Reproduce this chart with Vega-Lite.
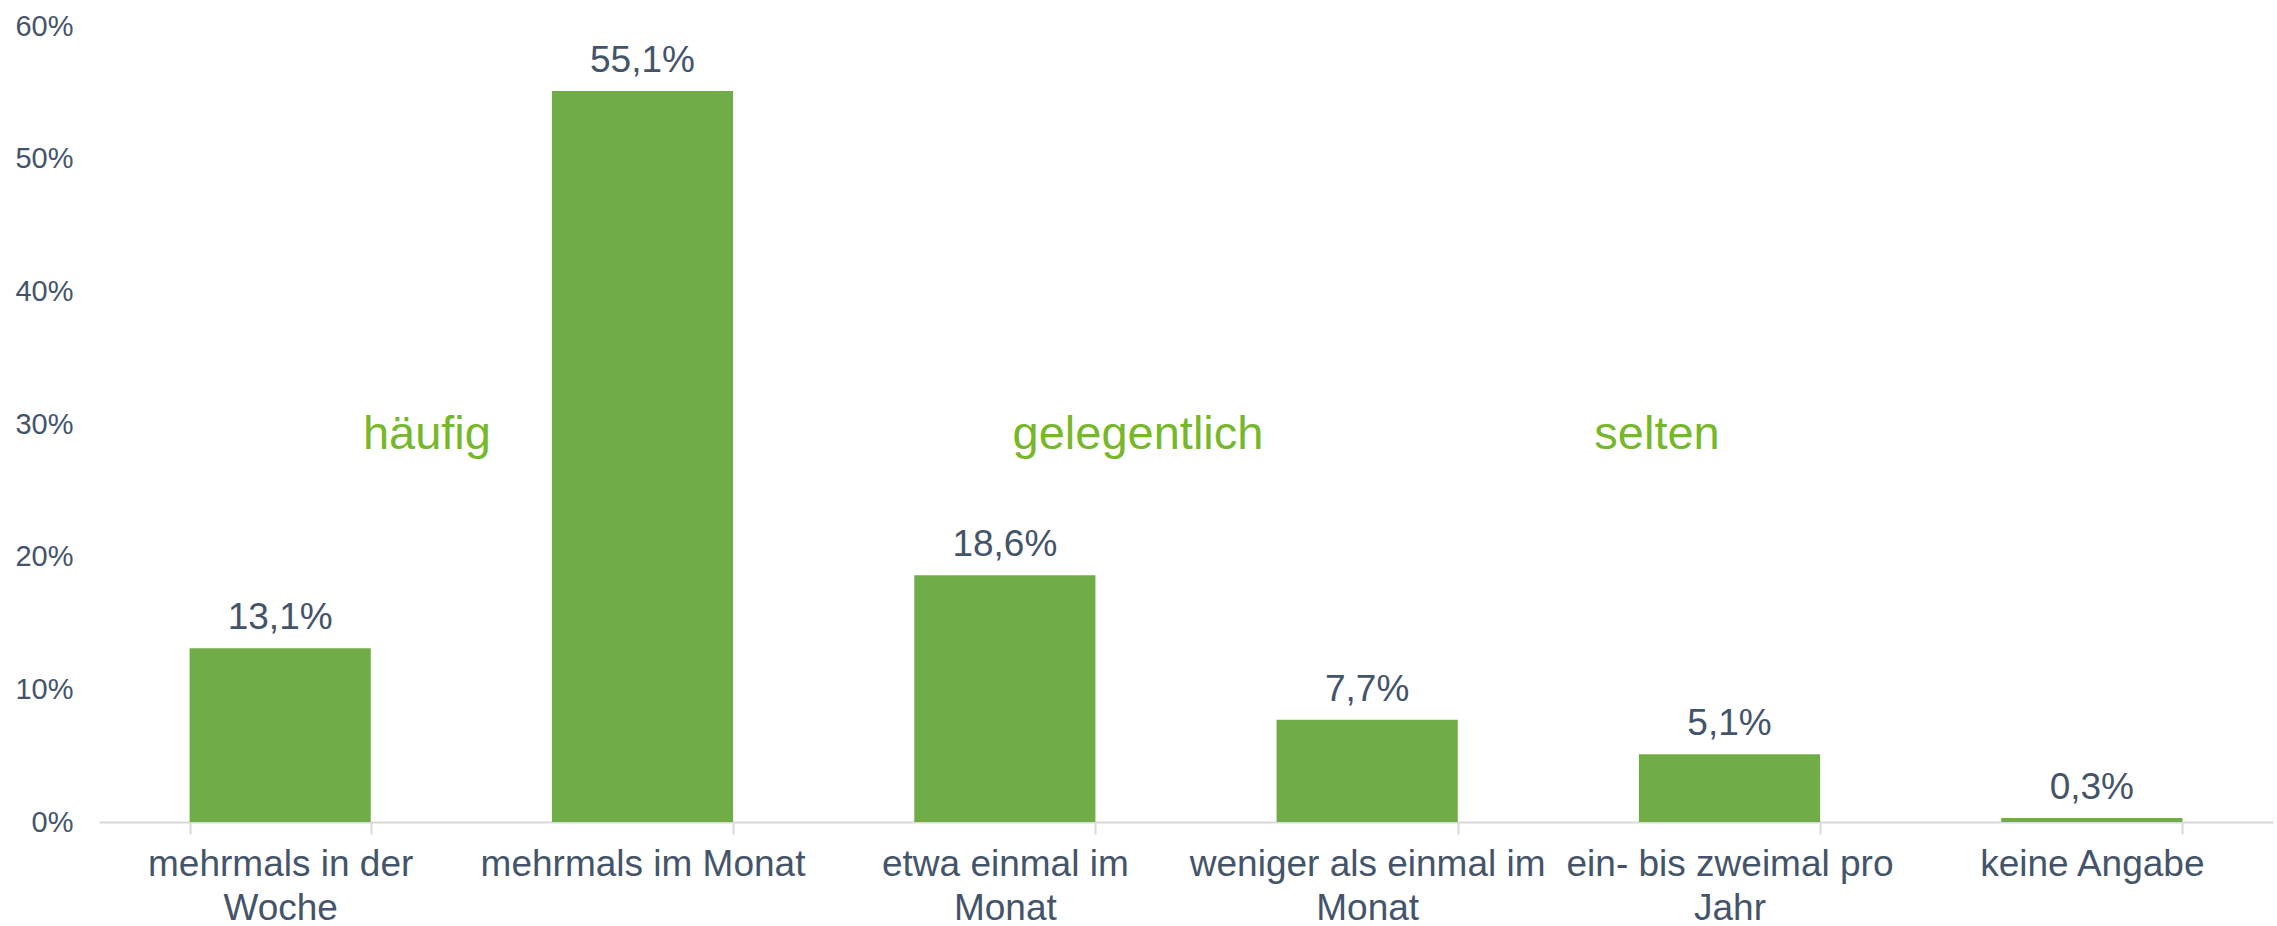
{
  "$schema": "https://vega.github.io/schema/vega-lite/v6.json",
  "width": 2174,
  "height": 796,
  "autosize": "none",
  "padding": {"left": 99, "top": 26, "right": 4, "bottom": 104},
  "background": "white",
  "config": {
    "view": {"stroke": null},
    "font": "Liberation Sans",
    "locale": {"number": {"decimal": ",", "thousands": ".", "grouping": [3], "currency": ["", " €"]}}
  },
  "datasets": {
    "bars": [
      {"kategorie": "mehrmals in der|Woche", "anteil": 0.131},
      {"kategorie": "mehrmals im Monat", "anteil": 0.551},
      {"kategorie": "etwa einmal im|Monat", "anteil": 0.186},
      {"kategorie": "weniger als einmal im|Monat", "anteil": 0.077},
      {"kategorie": "ein- bis zweimal pro|Jahr", "anteil": 0.051},
      {"kategorie": "keine Angabe", "anteil": 0.003}
    ],
    "gruppen": [
      {"gruppe": "häufig", "anker": "mehrmals in der|Woche"},
      {"gruppe": "gelegentlich", "anker": "etwa einmal im|Monat"},
      {"gruppe": "selten", "anker": "ein- bis zweimal pro|Jahr"}
    ]
  },
  "layer": [
    {
      "data": {"name": "bars"},
      "mark": {"type": "bar", "color": "#70AD47"},
      "encoding": {
        "x": {
          "field": "kategorie", "type": "nominal", "sort": null, "title": null,
          "scale": {
            "domain": ["mehrmals in der|Woche", "mehrmals im Monat", "etwa einmal im|Monat", "weniger als einmal im|Monat", "ein- bis zweimal pro|Jahr", "keine Angabe"],
            "paddingInner": 0.5, "paddingOuter": 0.25
          },
          "axis": {
            "labelAngle": 0,
            "labelExpr": "split(datum.label, '|')",
            "labelFontSize": 37,
            "labelColor": "#44546A",
            "labelLineHeight": 44,
            "labelPadding": 12,
            "labelLimit": 0,
            "labelOverlap": false,
            "labelBaseline": "top",
            "tickBand": "extent",
            "tickSize": 12,
            "tickColor": "#D9D9D9",
            "tickWidth": 2,
            "domainColor": "#D9D9D9",
            "domainWidth": 2,
            "grid": false
          }
        },
        "y": {
          "field": "anteil", "type": "quantitative", "title": null,
          "scale": {"domain": [0, 0.6], "nice": false},
          "axis": {
            "values": [0, 0.1, 0.2, 0.3, 0.4, 0.5, 0.6],
            "format": ".0%",
            "labelFontSize": 29,
            "labelColor": "#44546A",
            "labelPadding": 26,
            "ticks": false,
            "domain": false,
            "grid": false
          }
        }
      }
    },
    {
      "data": {"name": "bars"},
      "mark": {"type": "text", "fontSize": 37, "color": "#44546A", "baseline": "alphabetic", "dy": -19},
      "encoding": {
        "x": {"field": "kategorie", "type": "nominal", "sort": null},
        "y": {"field": "anteil", "type": "quantitative"},
        "text": {"field": "anteil", "type": "quantitative", "format": ".1%"}
      }
    },
    {
      "data": {"name": "gruppen"},
      "transform": [{"filter": "datum.gruppe == 'häufig'"}],
      "mark": {"type": "text", "fontSize": 47, "color": "#77B82A", "baseline": "middle"},
      "encoding": {
        "x": {"field": "anker", "type": "nominal", "sort": null, "bandPosition": 1.31},
        "y": {"datum": 0.292, "type": "quantitative"},
        "text": {"field": "gruppe"}
      }
    },
    {
      "data": {"name": "gruppen"},
      "transform": [{"filter": "datum.gruppe == 'gelegentlich'"}],
      "mark": {"type": "text", "fontSize": 47, "color": "#77B82A", "baseline": "middle"},
      "encoding": {
        "x": {"field": "anker", "type": "nominal", "sort": null, "bandPosition": 1.235},
        "y": {"datum": 0.292, "type": "quantitative"},
        "text": {"field": "gruppe"}
      }
    },
    {
      "data": {"name": "gruppen"},
      "transform": [{"filter": "datum.gruppe == 'selten'"}],
      "mark": {"type": "text", "fontSize": 47, "color": "#77B82A", "baseline": "middle"},
      "encoding": {
        "x": {"field": "anker", "type": "nominal", "sort": null, "bandPosition": 0.1},
        "y": {"datum": 0.292, "type": "quantitative"},
        "text": {"field": "gruppe"}
      }
    }
  ]
}
